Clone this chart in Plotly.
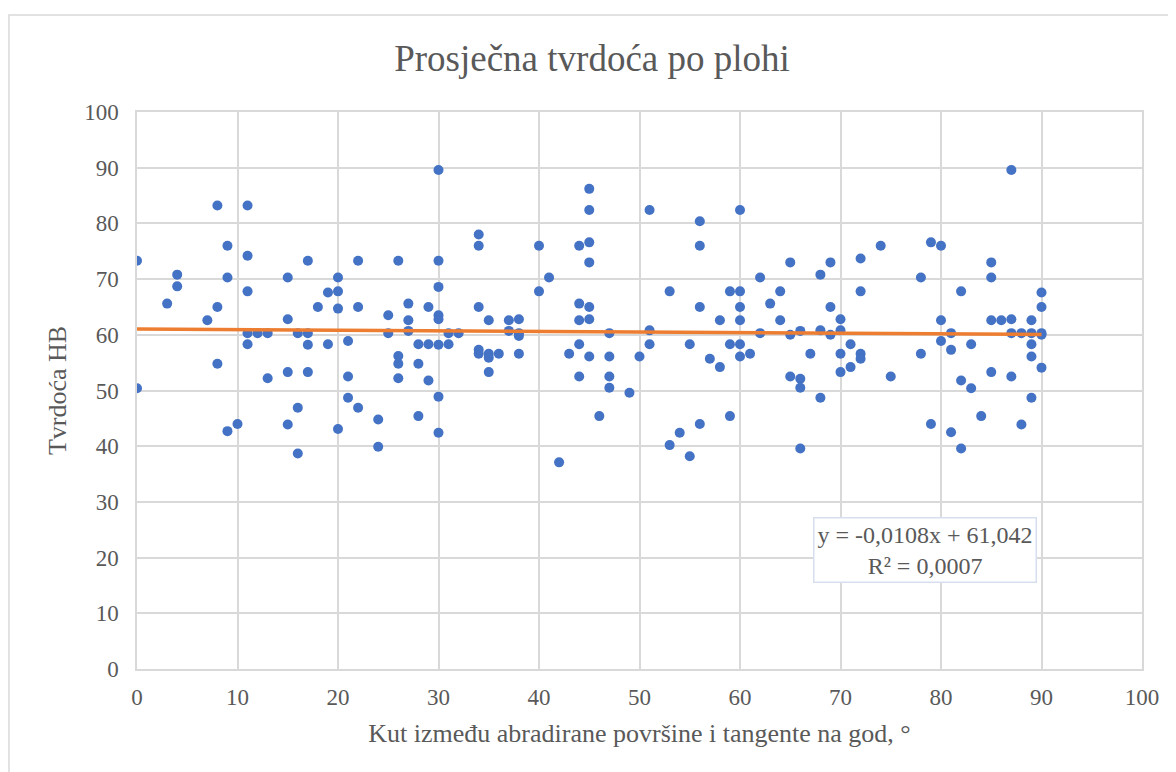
"""Prosječna tvrdoća po plohi - scatter with linear trendline."""

import plotly.graph_objects as go

KUT = [
    0, 0, 3, 4, 4, 7, 8, 8, 8, 9, 9, 9, 10,
    11, 11, 11, 11, 11, 12, 13, 13,
    15, 15, 15, 15, 16, 16, 16, 17, 17, 17, 17, 18, 19, 19,
    20, 20, 20, 20, 21, 21, 21, 22, 22, 22, 24, 24, 25, 25,
    26, 26, 26, 26, 27, 27, 27, 28, 28, 28, 29, 29, 29,
    30, 30, 30, 30, 30, 30, 30, 30, 31, 31, 32,
    34, 34, 34, 34, 34, 35, 35, 35, 35, 36, 37, 37, 38, 38, 38, 38,
    40, 40, 41, 42, 43, 44, 44, 44, 44, 44,
    45, 45, 45, 45, 45, 45, 45, 46, 47, 47, 47, 47, 49,
    50, 51, 51, 51, 53, 53, 54, 55, 55, 56, 56, 56, 56, 57, 58, 58,
    59, 59, 59, 60, 60, 60, 60, 60, 60, 61, 62, 62, 63, 64, 64,
    65, 65, 65, 66, 66, 66, 66, 67, 68, 68, 68, 69, 69, 69,
    70, 70, 70, 70, 71, 71, 72, 72, 72, 72, 74, 75, 78, 78, 79, 79,
    80, 80, 80, 81, 81, 81, 82, 82, 82, 83, 83, 84,
    85, 85, 85, 85, 86, 87, 87, 87, 87, 88, 88,
    89, 89, 89, 89, 89, 90, 90, 90, 90, 90,
]
TVRDOCA = [
    73.3, 50.4, 65.6, 70.8, 68.7, 62.6, 83.2, 65.0, 54.8, 76.0, 70.3, 42.7, 44.0,
    83.2, 74.2, 67.8, 60.3, 58.3, 60.3, 60.3, 52.2,
    70.3, 62.8, 53.3, 43.9, 60.3, 46.9, 38.7, 73.3, 60.3, 58.2, 53.3, 65.0, 67.6, 58.3,
    70.3, 67.8, 64.7, 43.1, 58.9, 52.5, 48.7, 73.3, 65.0, 46.9, 44.8, 39.9, 63.5, 60.3,
    73.3, 56.2, 54.8, 52.2, 65.6, 62.6, 60.7, 58.3, 54.8, 45.4, 65.0, 58.3, 51.8,
    89.6, 73.3, 68.6, 63.5, 62.8, 58.2, 48.9, 42.4, 60.3, 58.3, 60.3,
    78.0, 76.0, 65.0, 57.3, 56.6, 62.6, 56.6, 55.9, 53.3, 56.6, 62.6, 60.7, 62.8, 60.3, 59.8, 56.6,
    76.0, 67.8, 70.3, 37.1, 56.6, 76.0, 65.6, 62.6, 58.3, 52.5,
    86.2, 82.4, 76.6, 73.0, 65.0, 62.8, 56.1, 45.4, 60.3, 56.1, 52.5, 50.5, 49.6,
    56.1, 82.4, 60.8, 58.3, 67.8, 40.2, 42.4, 58.3, 38.2, 80.4, 76.0, 65.0, 44.0, 55.7, 62.6, 54.2,
    67.8, 58.3, 45.4, 82.4, 67.8, 65.0, 62.6, 58.3, 56.1, 56.6, 70.3, 60.3, 65.6, 67.8, 62.6,
    73.0, 60.0, 52.5, 60.7, 52.1, 50.5, 39.6, 56.6, 70.8, 60.8, 48.7, 73.0, 65.0, 60.0,
    62.8, 60.8, 56.6, 53.3, 58.3, 54.2, 73.7, 67.8, 56.6, 55.7, 76.0, 52.5, 70.3, 56.6, 76.6, 44.0,
    76.0, 62.6, 58.9, 60.3, 57.3, 42.5, 67.8, 51.8, 39.6, 58.3, 50.4, 45.4,
    73.0, 70.3, 62.6, 53.3, 62.6, 89.6, 62.8, 60.3, 52.5, 60.3, 43.9,
    62.6, 60.3, 58.3, 56.1, 48.7, 67.6, 65.0, 60.3, 60.0, 54.1,
]

# Linear trendline reported by the chart
TREND_SLOPE = -0.0108
TREND_INTERCEPT = 61.042
TREND_X = [0, 90]

SERIF = "Liberation Serif, Times New Roman, serif"
TEXT_COLOR = "#595959"
GRID_COLOR = "#D9D9D9"

fig = go.Figure()
fig.add_trace(go.Scatter(
    x=KUT, y=TVRDOCA, mode="markers", name="Tvrdoća",
    marker=dict(color="#4472C4", size=10),
))
fig.add_trace(go.Scatter(
    x=TREND_X, y=[TREND_SLOPE * x + TREND_INTERCEPT for x in TREND_X],
    mode="lines", name="Linear", line=dict(color="#ED7D31", width=3.5),
))

fig.add_annotation(
    x=78.4, y=21.4, xref="x", yref="y",
    text="y = -0,0108x + 61,042<br>R² = 0,0007",
    showarrow=False, align="center",
    font=dict(family=SERIF, size=24, color=TEXT_COLOR),
    bgcolor="white", bordercolor="#D6DFEE", borderwidth=1.5, borderpad=3,
)

# outer chart border
fig.add_shape(
    type="rect", xref="paper", yref="paper",
    x0=-0.1274, x1=1.05, y0=-0.25, y1=1.174,
    line=dict(color=GRID_COLOR, width=1.5), layer="below",
)

axis_common = dict(
    range=[0, 100], dtick=10, showgrid=True, gridcolor=GRID_COLOR, gridwidth=1.5,
    zeroline=False, showline=True, linecolor=GRID_COLOR, linewidth=1.5, mirror=True,
    tickfont=dict(family=SERIF, size=23, color=TEXT_COLOR), ticks="",
)
fig.update_layout(
    width=1168, height=764,
    margin=dict(l=129, r=34, t=104, b=103),
    paper_bgcolor="white", plot_bgcolor="white",
    showlegend=False,
    title=dict(
        text="Prosječna tvrdoća po plohi", x=0.5, xanchor="center", y=0.935, yanchor="middle",
        font=dict(family=SERIF, size=37, color=TEXT_COLOR),
    ),
    xaxis=dict(
        **axis_common, ticklabelstandoff=7,
        title=dict(text="Kut između abradirane površine i tangente na god, °",
                   font=dict(family=SERIF, size=26, color=TEXT_COLOR), standoff=14),
    ),
    yaxis=dict(
        **axis_common, ticklabelstandoff=12,
        title=dict(text="Tvrdoća HB", font=dict(family=SERIF, size=26, color=TEXT_COLOR), standoff=10),
    ),
)

fig.write_html("out.html")
